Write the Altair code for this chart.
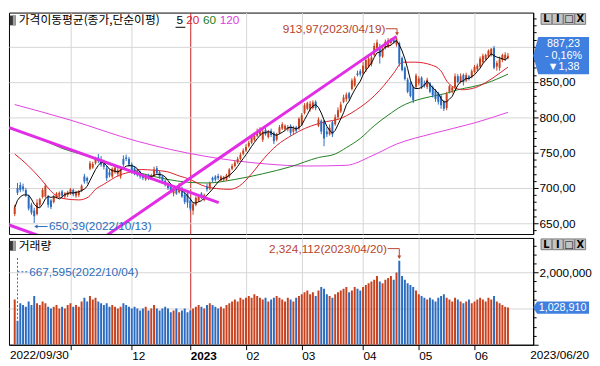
import altair as alt
import pandas as pd

# ---------------- data ----------------
opens = [663,700,704,702,697,688,676,668,663,676,687,688,688,682,680,687,689,695,688,690,
         692,697,689,690,696,716,714,727,729,735,743,741,736,728,722,716,722,720,716,741,
         743,741,733,728,724,721,718,712,718,713,718,728,722,716,710,706,702,692,700,694,
         700,690,692,682,668,676,682,692,683,702,699,714,716,717,711,712,712,716,727,731,
         736,741,748,753,759,764,768,774,776,768,782,772,781,778,768,778,784,783,783,788,
         780,786,784,790,806,812,812,813,822,788,795,795,780,776,793,790,800,808,822,826,
         834,840,845,862,865,862,868,872,875,888,898,900,886,898,900,905,910,903,905,884,
         870,853,849,842,843,848,856,847,843,848,843,838,834,830,822,813,836,838,843,858,
         850,860,852,858,857,864,868,872,878,882,886,888,898,872,870,881,883,884]
highs = [676,707,708,706,700,690,679,672,684,686,700,706,690,684,690,694,695,697,694,696,
         700,699,696,697,705,720,716,738,737,744,748,745,740,731,726,729,732,728,728,746,
         747,744,736,731,727,724,720,720,720,720,730,731,724,718,712,708,705,702,702,707,
         702,694,694,686,680,688,691,694,692,706,709,716,718,720,718,717,720,728,734,739,
         744,750,756,762,767,775,778,784,786,784,785,782,784,780,778,789,793,790,789,790,
         788,788,800,806,820,822,823,824,824,800,797,796,786,790,795,804,814,822,832,835,
         836,855,858,866,868,878,884,886,888,905,910,904,900,910,912,912,913,913.97,907,886,
         872,856,851,845,862,858,858,852,856,850,845,840,836,832,824,836,846,844,862,861,
         862,862,863,860,868,874,876,886,890,890,896,898,901,880,886,890,892,891]
lows = [660,690,694,695,687,668,662,650.39,661,673,685,686,672,670,678,685,686,686,685,687,
        690,688,686,687,694,706,706,725,727,733,735,730,726,710,715,714,720,716,713,730,
        738,730,720,718,716,713,711,710,711,711,716,719,713,707,702,697,693,688,690,692,
        686,677,672,667,662,674,680,684,681,695,697,708,709,711,709,709,710,714,725,729,
        734,739,746,751,757,762,766,772,774,765,774,770,772,762,766,776,782,781,780,774,
        776,778,782,788,804,810,808,811,810,786,776,759,772,774,772,788,798,806,820,822,
        824,838,843,858,858,860,864,870,872,886,895,876,884,896,898,902,904,900,872,865,
        852,834,828,820,840,845,840,842,840,834,828,822,818,812,809,810,834,834,840,848,
        848,845,850,852,855,862,865,870,876,880,884,886,868,866,866,878,880,882]
closes = [672,693,697,698,690,671,665,660,679,684,697,703,676,673,688,692,693,689,692,694,
          698,691,694,695,703,709,710,735,734,742,738,733,730,714,718,727,729,725,726,733,
          741,733,724,720,718,716,714,717,714,718,726,721,716,710,705,700,696,700,692,704,
          688,680,679,671,677,686,689,686,690,698,707,711,712,714,716,715,718,726,731,736,
          741,747,753,758,764,772,774,780,782,780,776,780,775,766,776,786,790,788,786,778,
          784,781,798,803,817,820,819,821,813,797,780,770,776,785,776,800,810,818,828,832,
          827,852,855,860,861,873,881,883,885,901,906,886,897,907,909,910,906,911,876,867,
          854,836,830,824,859,855,843,845,853,836,831,826,822,817,812,833,844,842,858,850,
          858,850,860,855,865,871,873,883,887,888,894,897,870,877,882,888,888.61,887.23]
volumes_k = [1250,667.595,1150,1100,1050,1200,1100,1350,1150,1100,1200,1150,1050,1000,1050,1100,1000,1050,1000,1100,
             1150,1050,1100,1050,1200,1300,1200,1350,1250,1300,1200,1150,1100,1150,1050,1100,1050,1000,1050,1150,
             1100,1050,1000,1050,1000,950,1000,1050,950,1000,1100,1000,950,1000,1050,1000,900,950,1000,900,
             950,1000,900,950,1000,1050,1100,1050,1000,1100,1150,1100,1050,1000,1050,1000,1100,1150,1200,1250,
             1200,1300,1250,1300,1350,1300,1400,1350,1300,1250,1300,1200,1250,1300,1350,1300,1250,1200,1300,1250,
             1200,1300,1350,1400,1450,1500,1400,1450,1350,1500,1600,1550,1400,1350,1300,1400,1450,1500,1550,1600,
             1450,1500,1600,1550,1500,1600,1650,1700,1750,1800,1900,1750,1700,1800,1850,1900,1800,2000,2324.112,1900,
             1800,1700,1650,1600,1500,1400,1350,1300,1250,1300,1250,1200,1300,1350,1400,1300,1250,1200,1300,1250,
             1200,1150,1200,1250,1150,1200,1250,1300,1250,1200,1300,1250,1350,1200,1150,1100,1050,1028.91]

ma20_idx = [0, 4.7, 9.5, 13.9, 17.3, 23, 26.4, 29, 31.9, 37.6, 42, 45.4, 50, 54.6, 59, 63, 67, 72.5, 77.3, 80.7,
            85, 89.5, 94, 99.7, 104, 109, 112, 116, 119, 122.4, 126, 129.2, 132.5, 135.9, 139.3, 143.7, 149.5,
            152.9, 155.1, 157.3, 160.7, 165.3, 169.8, 174.2, 177]
ma20_val = [748, 732, 712, 692, 685, 683, 687, 698, 705, 718, 723, 726, 725, 723, 717, 712, 704, 699, 698, 703,
            720, 742, 760, 775, 784, 791, 794, 797, 802, 810, 820, 831, 845, 862, 878, 878, 874,
            866, 851, 843, 839, 842, 851, 863, 871]
ma60_idx = [0, 9, 17, 26, 34, 45, 55, 62, 69, 79, 89, 99, 109, 115, 119, 124, 129, 134, 139, 144, 149, 155,
            159, 164, 169, 173, 177]
ma60_val = [782, 770, 756, 745, 733, 721, 712, 708, 707, 712, 720, 730, 743, 748, 757, 770, 788, 803, 816, 824,
            829, 834, 839, 843, 848, 854, 861]
ma120_idx = [0, 20, 44, 68, 90, 105, 119, 128, 137, 150, 165, 177]
ma120_val = [818, 796, 766, 745, 734, 731, 732, 745, 762, 777, 792, 807]

trend_id = ["a", "a", "b", "b", "c", "c"]
trend_idx = [-2.0, 73.2, -2.0, 10.0, 31.0, 137.0]
trend_val = [785.3, 679.0, 647.5, 630.5, 627.3, 914.5]

month_idx = [20, 42, 63, 83, 103, 125, 145, 165]
month_lbl = ["", "12", "2023", "02", "03", "04", "05", "06"]
year_idx = 63
first_date, last_date = "2022/09/30", "2023/06/20"

title_main = "가격이동평균(종가,단순이평)"
ma_labels = ["5", "20", "60", "120"]
vol_title = "거래량"
hi_label = "913,97(2023/04/19)"
lo_label = "650,39(2022/10/13)"
vhi_label = "2,324,112(2023/04/20)"
vlo_label = "667,595(2022/10/04)"
tag_lines = ["887,23", "- 0,16%", "▼1,38"]
vtag_line = "1,028,910"

# ---------------- styling ----------------
W, H1, H2 = 535, 226, 109
XDOM = [-0.3, 184.3]
PDOM = [634.7, 948.2]
VDOM = [0, 2955]
UP, DOWN = "#C8421F", "#2B6CC0"
GRID = "#D5D5D5"
JANC = "#C82020"
MA_COL = ["#000000", "#DC1E2A", "#1E7D1E", "#E040E0"]
TREND = "#E22CE6"
TAG = "#3F7FE0"
ANN_R = "#B8442E"
ANN_B = "#2A6EBB"
NUM = "Liberation Sans, DejaVu Sans"
KOR = "Noto Sans CJK KR"

n = len(closes)
cd = pd.DataFrame({"i": list(range(n)), "o": opens, "h": highs, "l": lows, "c": closes, "v": volumes_k})
cd["dir"] = ["up" if c >= o else "down" for o, c in zip(opens, closes)]

xs = alt.Scale(domain=XDOM, nice=False, zero=False)
ps = alt.Scale(domain=PDOM, nice=False, zero=False)
vs = alt.Scale(domain=VDOM, nice=False, zero=False)
dirs = alt.Scale(domain=["up", "down"], range=[UP, DOWN])
col = alt.Color("dir:N", scale=dirs, legend=None)

grid_col = {"condition": {"test": f"datum.value === {year_idx}", "value": JANC}, "value": GRID}
x_lbl_expr = " : ".join(f"datum.value === {i} ? '{t}'" for i, t in zip(month_idx, month_lbl)) + " : ''"

ax_x_top = alt.Axis(values=month_idx, grid=True, gridColor=grid_col, labels=False, ticks=False,
                    domain=False, title=None)
ax_x_bot = alt.Axis(values=month_idx, grid=True, gridColor=grid_col, labelExpr=x_lbl_expr,
                    labelAlign="left", labelBaseline="top", labelPadding=1, labelFont=NUM,
                    labelFontSize=12, labelColor="#000",
                    labelFontWeight={"condition": {"test": f"datum.value === {year_idx}", "value": "bold"},
                                     "value": "normal"},
                    labelOverlap=False, labelFlush=False, labelBound=False, tickSize=5,
                    tickColor="#000", domainColor="#000", title=None)
ax_p = alt.Axis(orient="right", values=list(range(640, 950, 10)), title=None, grid=True, gridColor=GRID,
                gridOpacity={"condition": {"test": "datum.value % 50 === 0", "value": 1}, "value": 0},
                tickSize={"condition": {"test": "datum.value % 50 === 0", "value": 5}, "value": 3},
                labelExpr="datum.value % 50 === 0 && datum.value < 880 ? replace(format(datum.value, '.2f'), '.', ',') : ''",
                labelFont=NUM, labelFontSize=12, labelColor="#000", labelPadding=1, labelOverlap=False,
                labelFlush=False, tickColor="#000", domainColor="#000")
ax_v = alt.Axis(orient="right", values=list(range(0, 2951, 250)), title=None, grid=True, gridColor=GRID,
                gridOpacity={"condition": {"test": "datum.value % 1000 === 0 && datum.value > 0", "value": 1}, "value": 0},
                tickSize={"condition": {"test": "datum.value % 1000 === 0", "value": 5}, "value": 3},
                labelExpr="datum.value === 2000 ? format(datum.value * 1000, ',d') : ''",
                labelFont=NUM, labelFontSize=12, labelColor="#000", labelPadding=1, labelOverlap=False,
                labelFlush=False, tickColor="#000", domainColor="#000")


def PX(f="i"):
    return alt.X(f"{f}:Q", scale=xs, axis=ax_x_top)


def PY(f):
    return alt.Y(f"{f}:Q", scale=ps, axis=ax_p)


def VX(f="i"):
    return alt.X(f"{f}:Q", scale=xs, axis=ax_x_bot)


def VY(f):
    return alt.Y(f"{f}:Q", scale=vs, axis=ax_v)


one = pd.DataFrame({"k": [0]})


def ptext(txt, x, y, color="#000", font=NUM, size=12, align="left", weight="normal", baseline="middle"):
    return alt.Chart(one).mark_text(align=align, baseline=baseline, font=font, fontSize=size,
                                    color=color, fontWeight=weight).encode(
        x=alt.value(x), y=alt.value(y), text=alt.value(txt))


def prect(x0, x1, y0, y1, fill, stroke=None):
    kw = {"fill": fill}
    if stroke:
        kw.update(stroke=stroke, strokeWidth=1)
    return alt.Chart(one).mark_rect(**kw).encode(
        x=alt.value(x0), x2=alt.value(x1), y=alt.value(y0), y2=alt.value(y1))


def buttons(y0):
    layers = []
    glyphs = ["L", "I", "□", "X"]
    for k, g in enumerate(glyphs):
        bx = W + 8 + k * 11.5
        layers.append(prect(bx, bx + 11, y0, y0 + 11, "#C4C4C4", "#7A7A7A"))
        layers.append(ptext(g, bx + 5.5, y0 + 6, font="DejaVu Sans", size=10, align="center",
                            weight="bold"))
    return layers


# ---------------- price panel ----------------
def ma_line(idx, val, color):
    d = pd.DataFrame({"i": idx, "m": val})
    return alt.Chart(d).mark_line(color=color, strokeWidth=1, clip=True, interpolate="monotone").encode(
        x=PX(), y=PY("m"))


ma120 = ma_line(ma120_idx, ma120_val, MA_COL[3])
ma60 = ma_line(ma60_idx, ma60_val, MA_COL[2])
ma20 = ma_line(ma20_idx, ma20_val, MA_COL[1])

wick = alt.Chart(cd).mark_rule(strokeWidth=1, clip=True).encode(x=PX(), y=PY("l"), y2="h:Q", color=col)
body = alt.Chart(cd).mark_bar(size=2, clip=True).encode(x=PX(), y=PY("o"), y2="c:Q", color=col)
ma5 = alt.Chart(cd).transform_window(
    ma5="mean(c)", frame=[-4, 0], sort=[alt.SortField("i")]
).mark_line(color=MA_COL[0], strokeWidth=1, clip=True).encode(x=PX(), y=PY("ma5"))

tdf = pd.DataFrame({"g": trend_id, "i": trend_idx, "p": trend_val})
trend = alt.Chart(tdf).mark_line(color=TREND, strokeWidth=3, clip=True).encode(
    x=PX(), y=PY("p"), detail="g:N")

peak_i = closes.index(max(closes))
hi_df = pd.DataFrame({"i": [peak_i - 4.0], "p": [925.3], "t": [hi_label]})
hi_txt = alt.Chart(hi_df).mark_text(align="right", baseline="middle", font=NUM, fontSize=12,
                                    color=ANN_R).encode(x=PX(), y=PY("p"), text="t:N")
hi_arrow = alt.Chart(pd.DataFrame({"i": [peak_i - 3.8, peak_i + 0.2, peak_i + 0.2],
                                   "p": [925.3, 925.3, 919.0], "o": [0, 1, 2]})).mark_line(
    color=ANN_R, strokeWidth=1).encode(x=PX(), y=PY("p"), order="o:Q")
hi_head = alt.Chart(pd.DataFrame({"i": [peak_i + 0.2], "p": [918.0]})).mark_point(
    shape="triangle-down", filled=True, size=16, opacity=1, color=ANN_R).encode(x=PX(), y=PY("p"))

low_i = lows.index(min(lows))
lo_df = pd.DataFrame({"i": [low_i + 5.3], "p": [645.8], "t": [lo_label]})
lo_txt = alt.Chart(lo_df).mark_text(align="left", baseline="middle", font=NUM, fontSize=12,
                                    color=ANN_B).encode(x=PX(), y=PY("p"), text="t:N")
lo_arrow = alt.Chart(pd.DataFrame({"i": [low_i + 0.4, low_i + 4.8], "p": [645.3, 645.3]})).mark_line(
    color=ANN_B, strokeWidth=1).encode(x=PX(), y=PY("p"))
lo_head = alt.Chart(pd.DataFrame({"i": [low_i + 0.6], "p": [645.3]})).mark_point(
    shape="triangle-left", filled=True, size=16, opacity=1, color=ANN_B).encode(x=PX(), y=PY("p"))

tag_shape = "M -1 0 L -0.82 -0.667 L 1 -0.667 L 1 0.667 L -0.82 0.667 Z"
last = cd.iloc[[-1]]
ptag = alt.Chart(last).mark_point(shape=tag_shape, filled=True, size=57 * 57, opacity=1, color=TAG,
                                  strokeWidth=0).encode(x=alt.value(W + 28.5), y=PY("c"))
ptag_txt = [alt.Chart(last).mark_text(align="center", baseline="middle", font=NUM, fontSize=11,
                                      color="white", dy=d).encode(
    x=alt.value(W + 31), y=PY("c"), text=alt.value(t)) for t, d in zip(tag_lines, [-12, 0, 12])]

title_layers = [
    prect(1, 7, 3, 13, "#3A3A3A"),
    prect(4, 7, 3, 13, "#A0A0A0"),
    ptext(title_main, 10, 8, font=KOR),
    ptext(ma_labels[0], 171, 8, color=MA_COL[0]),
    alt.Chart(one).mark_rule(color="#000", strokeWidth=1).encode(
        x=alt.value(170), x2=alt.value(180), y=alt.value(15)),
    ptext(ma_labels[1], 181, 8, color=MA_COL[1]),
    ptext(ma_labels[2], 198, 8, color=MA_COL[2]),
    ptext(ma_labels[3], 215, 8, color=MA_COL[3]),
]

price = alt.layer(
    ma120, ma60, ma20, wick, body, ma5, trend,
    hi_arrow, hi_head, hi_txt, lo_arrow, lo_head, lo_txt,
    *title_layers, ptag, *ptag_txt, *buttons(1),
).properties(width=W, height=H1)

# ---------------- volume panel ----------------
bars = alt.Chart(cd).mark_bar(size=2, clip=True).encode(x=VX(), y=VY("v"), color=col)

vpeak_i = volumes_k.index(max(volumes_k))
vhi_txt = alt.Chart(pd.DataFrame({"i": [vpeak_i - 4.4], "v": [2660], "t": [vhi_label]})).mark_text(
    align="right", baseline="middle", font=NUM, fontSize=12, color=ANN_R).encode(
    x=VX(), y=VY("v"), text="t:N")
vhi_arrow = alt.Chart(pd.DataFrame({"i": [vpeak_i - 4.2, vpeak_i, vpeak_i],
                                    "v": [2660, 2660, 2440], "o": [0, 1, 2]})).mark_line(
    color=ANN_R, strokeWidth=1).encode(x=VX(), y=VY("v"), order="o:Q")
vhi_head = alt.Chart(pd.DataFrame({"i": [vpeak_i], "v": [2420]})).mark_point(
    shape="triangle-down", filled=True, size=16, opacity=1, color=ANN_R).encode(x=VX(), y=VY("v"))

vlow_i = volumes_k.index(min(volumes_k))
vlo_vert = alt.Chart(pd.DataFrame({"i": [vlow_i], "a": [2400], "b": [min(volumes_k)]})).mark_rule(
    color=ANN_B, strokeWidth=1, strokeDash=[2, 2]).encode(x=VX(), y=VY("a"), y2="b:Q")
vlo_hor = alt.Chart(pd.DataFrame({"i": [vlow_i], "i2": [vlow_i + 3.8], "v": [2020]})).mark_rule(
    color=ANN_B, strokeWidth=1, strokeDash=[2, 2]).encode(x=VX(), x2="i2:Q", y=VY("v"))
vlo_txt = alt.Chart(pd.DataFrame({"i": [vlow_i + 4.2], "v": [2020], "t": [vlo_label]})).mark_text(
    align="left", baseline="middle", font=NUM, fontSize=12, color=ANN_B).encode(
    x=VX(), y=VY("v"), text="t:N")

vtag_shape = "M -1 0 L -0.86 -0.22 L 1 -0.22 L 1 0.22 L -0.86 0.22 Z"
vtag = alt.Chart(last).mark_point(shape=vtag_shape, filled=True, size=57 * 57, opacity=1, color=TAG,
                                  strokeWidth=0).encode(x=alt.value(W + 28.5), y=VY("v"))
vtag_txt = alt.Chart(last).mark_text(align="center", baseline="middle", font=NUM, fontSize=11,
                                     color="white").encode(x=alt.value(W + 30), y=VY("v"),
                                                           text=alt.value(vtag_line))

vol_title_layers = [
    prect(1, 7, 3, 13, "#3A3A3A"),
    prect(4, 7, 3, 13, "#A0A0A0"),
    ptext(vol_title, 10, 8, font=KOR),
]
end_labels = [
    ptext(first_date, 1, H2 + 6, baseline="top"),
    ptext(last_date, W + 57, H2 + 6, align="right", baseline="top"),
]

volume = alt.layer(
    bars, vhi_arrow, vhi_head, vhi_txt, vlo_vert, vlo_hor, vlo_txt,
    *vol_title_layers, vtag, vtag_txt, *buttons(1), *end_labels,
).properties(width=W, height=H2)

chart = alt.vconcat(price, volume, spacing=0).resolve_scale(y="independent").properties(
    padding=0, background="white"
).configure_view(stroke="#000000", strokeWidth=1)

chart.save("out.html", embed_options={"renderer": "svg", "actions": False})
